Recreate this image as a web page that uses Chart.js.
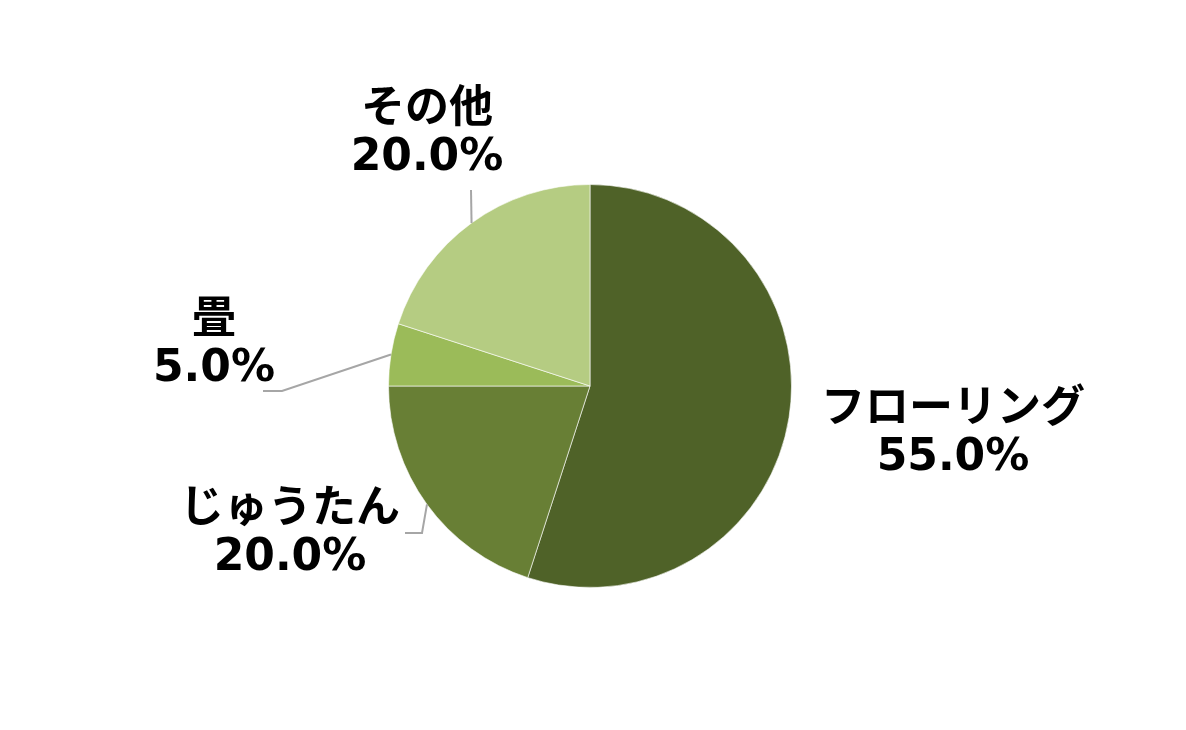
<!DOCTYPE html>
<html>
<head>
<meta charset="utf-8">
<script src="https://cdn.jsdelivr.net/npm/chart.js@4"></script>
<style>
  html, body { margin: 0; padding: 0; background: #ffffff; }
  #wrap { width: 1186px; height: 730px; position: relative; }
</style>
</head>
<body>
<div id="wrap"><canvas id="floorChart" width="1186" height="730"></canvas></div>
<script>
// Floor covering shares (%)
const categories = ['フローリング', 'じゅうたん', '畳', 'その他'];
const shares = [55.0, 20.0, 5.0, 20.0];
const valueLabels = ['55.0%', '20.0%', '5.0%', '20.0%'];

const sliceColors = ['#4f6228', '#687f35', '#9bbb59', '#b5cc82'];

// Label placement relative to the pie centre (px): text centre x, baseline of the
// second line, and optional leader-line bend/end points.
const labelPlacement = [
  { dx: 363, base: 84, leader: null },
  { dx: -300, base: 184, leader: [[-168, 147], [-185, 147]] },
  { dx: -376, base: -5, leader: [[-308, 5], [-327, 5]] },
  { dx: -163, base: -216, leader: [[-119, -196]] }
];

const labelFont = 'bold 44px "DejaVu Sans", "Noto Sans CJK JP", sans-serif';
const lineGap = 48;

const pieLabels = {
  id: 'pieLabels',
  afterDatasetsDraw(chart) {
    const ctx = chart.ctx;
    const meta = chart.getDatasetMeta(0);
    meta.data.forEach((arc, i) => {
      const p = arc.getProps(['x', 'y', 'startAngle', 'endAngle', 'outerRadius'], true);
      const place = labelPlacement[i];
      const cx = p.x, cy = p.y;
      if (place.leader) {
        const mid = (p.startAngle + p.endAngle) / 2;
        ctx.save();
        ctx.strokeStyle = '#a6a6a6';
        ctx.lineWidth = 2;
        ctx.beginPath();
        ctx.moveTo(cx + Math.cos(mid) * p.outerRadius, cy + Math.sin(mid) * p.outerRadius);
        place.leader.forEach(pt => ctx.lineTo(cx + pt[0], cy + pt[1]));
        ctx.stroke();
        ctx.restore();
      }
      ctx.save();
      ctx.fillStyle = '#000000';
      ctx.font = labelFont;
      ctx.textAlign = 'center';
      ctx.textBaseline = 'alphabetic';
      ctx.fillText(categories[i], cx + place.dx, cy + place.base - lineGap);
      ctx.fillText(valueLabels[i], cx + place.dx, cy + place.base);
      ctx.restore();
    });
  }
};

new Chart(document.getElementById('floorChart'), {
  type: 'pie',
  data: {
    labels: categories,
    datasets: [{
      data: shares,
      backgroundColor: sliceColors,
      borderColor: 'rgba(255,255,255,0.6)',
      borderWidth: 1
    }]
  },
  options: {
    responsive: false,
    animation: false,
    layout: { padding: { top: 184, bottom: 142, left: 0, right: 6 } },
    plugins: {
      legend: { display: false },
      tooltip: { enabled: false }
    }
  },
  plugins: [pieLabels]
});
</script>
</body>
</html>
